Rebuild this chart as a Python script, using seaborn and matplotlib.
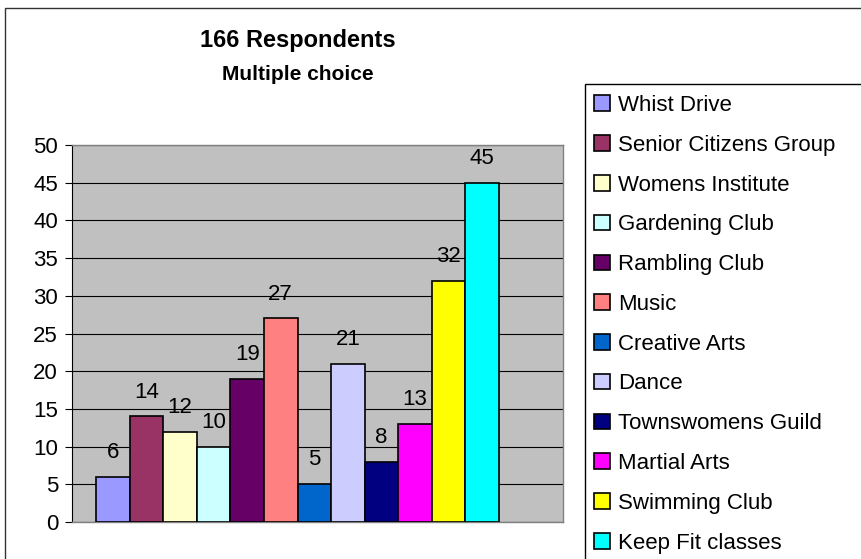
import matplotlib
matplotlib.use("Agg")
import matplotlib.pyplot as plt
import seaborn as sns
import pandas as pd
from matplotlib.patches import Rectangle

categories = ["Whist Drive", "Senior Citizens Group", "Womens Institute", "Gardening Club",
              "Rambling Club", "Music", "Creative Arts", "Dance", "Townswomens Guild",
              "Martial Arts", "Swimming Club", "Keep Fit classes"]
values = [6, 14, 12, 10, 19, 27, 5, 21, 8, 13, 32, 45]
colors = ["#9999FF", "#993366", "#FFFFCC", "#CCFFFF", "#660066", "#FF8080",
          "#0066CC", "#CCCCFF", "#000080", "#FF00FF", "#FFFF00", "#00FFFF"]
yticks = [0, 5, 10, 15, 20, 25, 30, 35, 40, 45, 50]

sns.set_theme(style="white")
plt.rcParams['font.family'] = ['Liberation Sans', 'DejaVu Sans']
plt.rcParams['text.color'] = 'black'

W, H = 861, 559
fig = plt.figure(figsize=(W / 100, H / 100), dpi=100)
fig.patch.set_facecolor("white")

ax = fig.add_axes([72 / W, (H - 522) / H, (563 - 72) / W, (522 - 145) / H])
df = pd.DataFrame({"cat": categories, "val": values})
sns.barplot(data=df, x="cat", y="val", hue="cat", palette=colors, dodge=False,
            saturation=1, width=1.0, edgecolor="black", linewidth=1.2, ax=ax,
            legend=True, zorder=3)
ax.set_facecolor("#C0C0C0")
ax.set_xlim(-1.215, 13.406)
ax.set_ylim(0, 50)
ax.set_yticks(yticks)
ax.set_yticklabels([str(v) for v in yticks], fontsize=16, color="black")
ax.set_xticks([])
ax.set_xlabel("")
ax.set_ylabel("")
ax.yaxis.grid(True, color="black", linewidth=0.8, zorder=0)
ax.set_axisbelow(True)
ax.tick_params(axis="y", direction="out", length=5, width=0.8, color="black", left=True, pad=5)
for side in ["top", "right", "bottom"]:
    ax.spines[side].set_color("#808080")
    ax.spines[side].set_linewidth(1.0)
ax.spines["left"].set_color("black")
ax.spines["left"].set_linewidth(0.8)

for cont in ax.containers:
    ax.bar_label(cont, fmt="%g", padding=10, fontsize=16, color="black")

handles, labels = ax.get_legend_handles_labels()
ax.get_legend().remove()
fig.legend(handles, labels, loc="upper left", bbox_to_anchor=(594 / W, 1 - 95 / H),
           frameon=False, fontsize=16, handlelength=0.7, handleheight=0.7,
           handletextpad=0.4, labelspacing=0.845, borderpad=0, borderaxespad=0,
           labelcolor="black")

# outer chart border
fig.add_artist(Rectangle((5 / W, -0.1), 1.2, 1 - 8 / H + 0.1, transform=fig.transFigure,
                         fill=False, edgecolor="#333333", linewidth=1.0))
# legend border
fig.add_artist(Rectangle((585 / W, -0.1), 1.0, 1 - 84 / H + 0.1, transform=fig.transFigure,
                         fill=False, edgecolor="black", linewidth=1.0))

fig.text(298 / W, 1 - 41 / H, "166 Respondents", ha="center", va="center",
         fontsize=17, fontweight="bold", color="black")
fig.text(298 / W, 1 - 74 / H, "Multiple choice", ha="center", va="center",
         fontsize=15, fontweight="bold", color="black")

fig.savefig("out.png", dpi=100)
